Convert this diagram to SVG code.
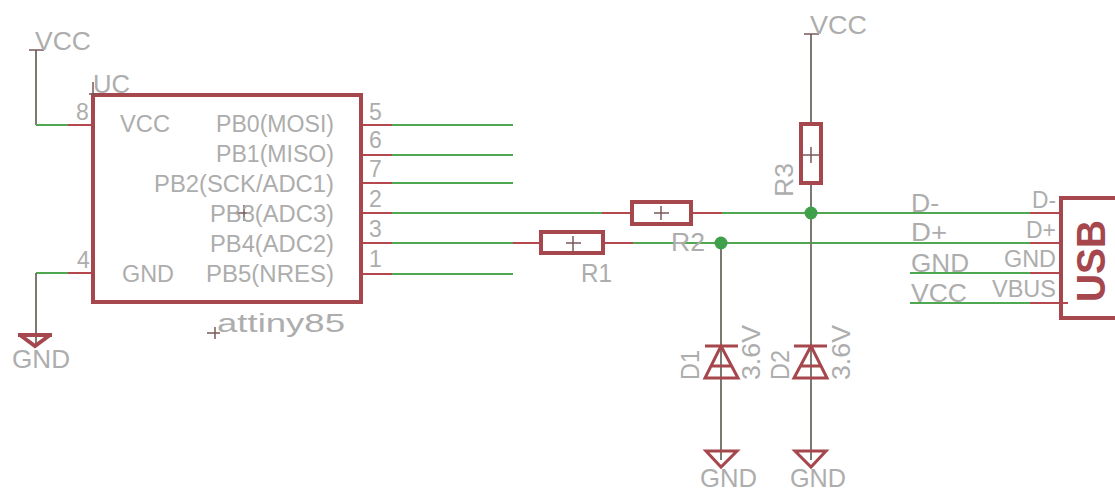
<svg xmlns="http://www.w3.org/2000/svg" width="1115" height="490" viewBox="0 0 1115 490">
<style>
.w{stroke:#4fa84f;stroke-width:2;fill:none}
.g{stroke:#7a7a72;stroke-width:2;fill:none}
.p{stroke:#b5474f;stroke-width:2;fill:none}
.b{stroke:#a5474d;stroke-width:4;fill:none}
.c{stroke:#a5474d;stroke-width:3;fill:none}
.k{stroke:#7a5a5a;stroke-width:1.5;fill:none}
text{font-family:"Liberation Sans",Arial,sans-serif;font-size:23px;fill:#adadad}
.l{font-size:26px}
.f{font-size:25px}
.u{font-size:41px;fill:#a5474d;font-weight:bold}
</style>
<g id="connectors">
<path class="g" d="M36 50V125"/><path class="w" d="M36 125H68"/><path class="p" d="M68 125H92"/>
<path class="w" d="M36 273H68"/><path class="p" d="M68 273H92"/><path class="g" d="M36 273V345"/>
<path class="p" d="M362 125H392M362 155H392M362 183H392M362 213H392M362 243H392M362 274H392"/>
<path class="w" d="M392 125H513M392 155H513M392 183H513M392 274H513"/>
<path class="w" d="M392 213H602"/><path class="p" d="M602 213H632M691 213H722"/>
<path class="w" d="M722 213H1030"/><path class="p" d="M1030 213H1061"/>
<path class="w" d="M392 243H513"/><path class="p" d="M513 243H541M603 243H633"/>
<path class="w" d="M633 243H1030"/><path class="p" d="M1030 243H1061"/>
<path class="w" d="M910 273H1030M910 303H1030"/><path class="p" d="M1030 273H1061M1030 303H1068"/>
<path class="g" d="M811 34V124M811 184V460M721 243V460"/>
<circle cx="811" cy="213" r="6.5" fill="#3f9f4a"/>
<circle cx="721" cy="243" r="6.5" fill="#3f9f4a"/>
</g>
<g id="vcc1"><path class="k" d="M29 50H44"/><text class="l" x="35" y="50" textLength="56" lengthAdjust="spacingAndGlyphs">VCC</text></g>
<g id="vcc2"><path class="k" d="M804 34H819"/><text class="l" x="810" y="34" textLength="57" lengthAdjust="spacingAndGlyphs">VCC</text></g>
<g id="attiny85">
<rect class="b" x="93" y="95" width="268" height="207"/>
<path class="k" d="M93 82V95M89 94H99M244 205V221M237 213H251M207 333H220M215 327V339"/>
<text class="l" x="93" y="93" textLength="37" lengthAdjust="spacingAndGlyphs">UC</text>
<text x="76" y="120">8</text><text x="77" y="268">4</text>
<text x="369" y="120">5</text><text x="369" y="148">6</text><text x="369" y="177">7</text><text x="369" y="207">2</text><text x="369" y="237">3</text><text x="369" y="267">1</text>
<text x="120" y="132" textLength="50" lengthAdjust="spacingAndGlyphs">VCC</text><text x="122" y="282" textLength="52" lengthAdjust="spacingAndGlyphs">GND</text>
<text x="216" y="132" textLength="118" lengthAdjust="spacingAndGlyphs">PB0(MOSI)</text>
<text x="216" y="162" textLength="118" lengthAdjust="spacingAndGlyphs">PB1(MISO)</text>
<text x="154" y="192" textLength="180" lengthAdjust="spacingAndGlyphs">PB2(SCK/ADC1)</text>
<text x="210" y="222" textLength="124" lengthAdjust="spacingAndGlyphs">PB3(ADC3)</text>
<text x="210" y="252" textLength="124" lengthAdjust="spacingAndGlyphs">PB4(ADC2)</text>
<text x="206" y="282" textLength="128" lengthAdjust="spacingAndGlyphs">PB5(NRES)</text>
<text class="l" x="217" y="332" textLength="128" lengthAdjust="spacingAndGlyphs">attiny85</text>
</g>
<g id="gnd1"><path class="b" d="M18 335H52M20 335L35 346L50 335"/><text class="l" x="12" y="368" textLength="58" lengthAdjust="spacingAndGlyphs">GND</text></g>
<g id="r1"><rect class="b" x="541" y="232" width="62" height="21"/><path class="k" d="M566 243H581M573 236V252"/><text class="l" x="581" y="282" textLength="31" lengthAdjust="spacingAndGlyphs">R1</text></g>
<g id="r2"><rect class="b" x="632" y="202" width="59" height="22"/><path class="k" d="M654 213H669M661 206V220"/><text class="l" x="671" y="251" textLength="34" lengthAdjust="spacingAndGlyphs">R2</text></g>
<g id="r3"><rect class="b" x="801" y="124" width="20" height="59"/><path class="k" d="M803 155H819M811 147V163"/><text class="l" transform="translate(793 197) rotate(-90)" textLength="34" lengthAdjust="spacingAndGlyphs">R3</text></g>
<g id="d1"><path class="c" d="M705 346H738M705 378H738L721 346ZM711 366H732"/><text class="l" transform="translate(699 380) rotate(-90)" textLength="30" lengthAdjust="spacingAndGlyphs">D1</text><text class="l" transform="translate(760 380) rotate(-90)" textLength="55" lengthAdjust="spacingAndGlyphs">3.6V</text></g>
<g id="d2"><path class="c" d="M794 346H827M794 378H827L811 346ZM801 366H821"/><text class="l" transform="translate(789 380) rotate(-90)" textLength="30" lengthAdjust="spacingAndGlyphs">D2</text><text class="l" transform="translate(850 380) rotate(-90)" textLength="55" lengthAdjust="spacingAndGlyphs">3.6V</text></g>
<g id="gnd2"><path class="c" d="M706 451H737L721 467Z"/><text class="f" x="700" y="487" textLength="57" lengthAdjust="spacingAndGlyphs">GND</text></g>
<g id="gnd3"><path class="c" d="M795 451H826L811 467Z"/><text class="f" x="790" y="487" textLength="56" lengthAdjust="spacingAndGlyphs">GND</text></g>
<g id="usb">
<path class="b" d="M1115 198H1061V318H1115"/>
<text x="1032" y="208" textLength="24" lengthAdjust="spacingAndGlyphs">D-</text><text x="1026" y="238" textLength="30" lengthAdjust="spacingAndGlyphs">D+</text><text x="1004" y="267" textLength="52" lengthAdjust="spacingAndGlyphs">GND</text><text x="992" y="297" textLength="64" lengthAdjust="spacingAndGlyphs">VBUS</text>
<text class="l" x="911" y="212" textLength="28" lengthAdjust="spacingAndGlyphs">D-</text><text class="l" x="911" y="241" textLength="36" lengthAdjust="spacingAndGlyphs">D+</text><text class="l" x="911" y="272" textLength="58" lengthAdjust="spacingAndGlyphs">GND</text><text class="l" x="911" y="302" textLength="56" lengthAdjust="spacingAndGlyphs">VCC</text>
<text class="u" transform="translate(1105 302) rotate(-90)" textLength="82" lengthAdjust="spacingAndGlyphs">USB</text>
</g>
</svg>
